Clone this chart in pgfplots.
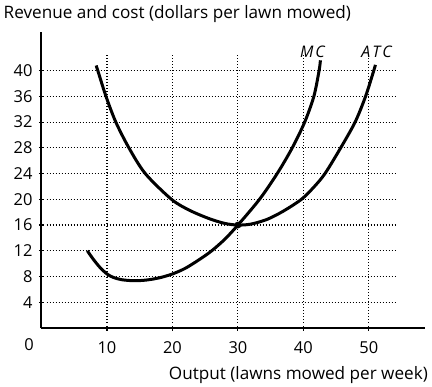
\documentclass[border=0pt]{standalone}
\usepackage{fontspec}
\setmainfont{Open Sans}
\usepackage{pgfplots}
\pgfplotsset{compat=1.18}
\begin{document}
\begin{tikzpicture}[x=1bp,y=1bp]
\useasboundingbox (-41.5,-58) rectangle (390.5,328);
\begin{axis}[
  at={(0,0)}, anchor=south west,
  width=383bp, height=296bp, scale only axis,
  xmin=0, xmax=58.5, ymin=0, ymax=46,
  axis x line=bottom, axis y line=left,
  axis line style={line width=2bp, -},
  xtick={10,20,30,40,50}, ytick={4,8,12,16,20,24,28,32,36,40},
  tick align=center, major tick length=5bp,
  tick style={line width=1.1bp, black},
  ticklabel style={font=\fontsize{16.5}{16.5}\selectfont},
  xticklabel style={yshift=-8bp},
  yticklabel style={xshift=-3bp},
  /pgf/number format/assume math mode=true,
  clip=false,
]
\pgfplotsinvokeforeach{4,8,12,16,20,24,28,32,36,40}{
  \draw[line width=1.1bp, dash pattern=on 1.1bp off 1.9bp] (axis cs:0.8,#1) -- (axis cs:54.3,#1);
}
\pgfplotsinvokeforeach{10,20,30,40,50}{
  \draw[line width=1.1bp, dash pattern=on 1.1bp off 1.9bp] (axis cs:#1,0.8) -- (axis cs:#1,42.7);
}
% MC
\addplot[line width=3bp, smooth] coordinates {
(7.0,12.0) (7.9,10.7) (8.9,9.45) (10,8.4) (11,7.85) (12.3,7.5) (14.1,7.35) (16,7.45) (18,7.8) (20,8.4) (22,9.3) (24.2,10.7) (26,12.0) (28,13.8) (30,16) (33.3,20) (36,24) (38.3,28) (40.2,32) (41.6,36) (42.4,40) (42.6,41.6)
};
% ATC
\addplot[line width=3bp, smooth] coordinates {
(8.35,40.8) (8.6,40) (9.85,36) (11.35,32) (13.35,28) (15.85,24) (19.85,20) (22.6,18.3) (25.6,17) (28,16.25) (30,16) (32,16.15) (34.5,16.9) (37,18.2) (39.7,20) (41.6,21.9) (43.3,24) (45.7,28) (47.9,32) (49.5,36) (50.75,40) (51.0,40.9)
};
\addplot[only marks, mark=*, mark size=3.2bp] coordinates {(30,16)};
\end{axis}
\node[anchor=base, font=\fontsize{16.5}{16.5}\selectfont] at (-12.5,-22.5) {0};
\node[anchor=base west, inner sep=0pt, font=\fontsize{17.2}{17.2}\selectfont] at (-38,309.5) {Revenue and cost (dollars per lawn mowed)};
\node[anchor=base east, inner sep=0pt, font=\fontsize{17.2}{17.2}\selectfont] at (386.5,-51) {Output (lawns mowed per week)};
\node[anchor=base, inner sep=0pt, font=\fontsize{16}{16}\selectfont\itshape] at (271,271) {M\kern2bp C};
\node[anchor=base, inner sep=0pt, font=\fontsize{16}{16}\selectfont\itshape] at (335,271) {A\kern2bp T\kern2bp C};
\end{tikzpicture}
\end{document}
